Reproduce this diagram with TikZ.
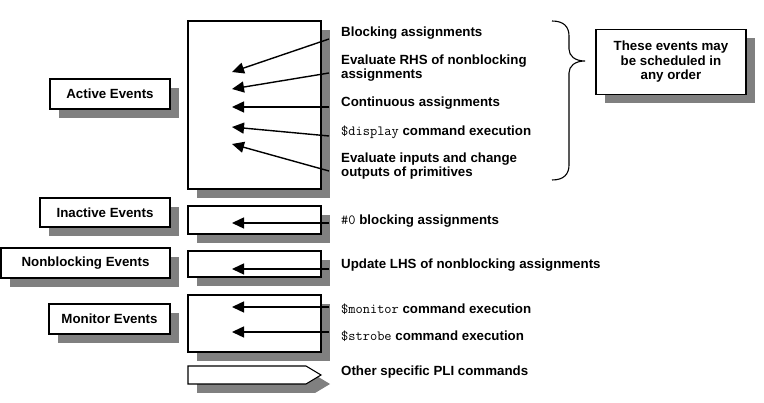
\documentclass[tikz,border=0pt]{standalone}
\usepackage{fontspec}
\setmainfont{Liberation Sans}
\usetikzlibrary{arrows.meta,shadows}
\newcommand\mycode[1]{{\ttfamily\mdseries\fontsize{14}{14}\selectfont#1}}
\begin{document}
\begin{tikzpicture}[x=1pt,y=-1pt,
  font=\fontsize{13.3}{14.5}\selectfont\bfseries,
  shad/.style={drop shadow={shadow xshift=9pt,shadow yshift=-9pt,fill=black!50,opacity=1}},
  evbox/.style={draw,fill=white,line width=1.1pt,shad,inner sep=0pt},
  lbl/.style={anchor=west,align=left,inner sep=0pt},
  arr/.style={line width=1.4pt,-{Triangle[length=12pt,width=11pt]}}]
\useasboundingbox (0,0) rectangle (764,403);
% event boxes
\node[evbox,minimum width=133pt,minimum height=168pt] (activebox) at (254.5,105) {};
\node[evbox,minimum width=120pt,minimum height=30pt] (activelbl) at (110,94) {Active Events};
\node[evbox,minimum width=130pt,minimum height=29pt] (inactivelbl) at (105,212.5) {Inactive Events};
\node[evbox,minimum width=133pt,minimum height=28pt] (inactivebox) at (254.5,220) {};
\node[evbox,minimum width=169pt,minimum height=30pt] (nblbl) at (85.5,263) {Nonblocking Events};
\node[evbox,minimum width=133pt,minimum height=26pt] (nbbox) at (254.5,264) {};
\node[evbox,minimum width=121pt,minimum height=30pt] (monlbl) at (109.5,319) {Monitor Events};
\node[evbox,minimum width=133pt,minimum height=57pt] (monbox) at (254.5,323.5) {};
\node[evbox,minimum width=150pt,minimum height=65pt,align=center] (orderbox) at (671,62)
  {\baselineskip=16pt These events may\\be scheduled in\\any order};
% other PLI pentagon
\path[draw,fill=white,line width=1.1pt,shad] (188,366) -- (306,366) -- (321,375) -- (306,384) -- (188,384) -- cycle;
% texts
\node[lbl] (t1) at (341,33) {Blocking assignments};
\node[lbl] (t2) at (341,68) {Evaluate RHS of nonblocking\\assignments};
\node[lbl] (t3) at (341,103) {Continuous assignments};
\node[lbl] (t4) at (341,132) {\mycode{\$display} command execution};
\node[lbl] (t5) at (341,166) {Evaluate inputs and change\\outputs of primitives};
\node[lbl] (t6) at (341,221) {\mycode{\#0} blocking assignments};
\node[lbl] (t7) at (341,265) {Update LHS of nonblocking assignments};
\node[lbl] (t8) at (341,309) {\mycode{\$monitor} command execution};
\node[lbl] (t9) at (341,336) {\mycode{\$strobe} command execution};
\node[lbl] (t10) at (341,372) {Other specific PLI commands};
% arrow endpoints
\coordinate (s1) at (329,39);  \coordinate (e1) at (232,72);
\coordinate (s2) at (329,73);  \coordinate (e2) at (232,89);
\coordinate (s3) at (329,107); \coordinate (e3) at (232,107);
\coordinate (s4) at (329,136); \coordinate (e4) at (232,127);
\coordinate (s5) at (329,171); \coordinate (e5) at (232,144);
\coordinate (s6) at (329,223); \coordinate (e6) at (232,223);
\coordinate (s7) at (329,269); \coordinate (e7) at (232,269);
\coordinate (s8) at (329,307); \coordinate (e8) at (232,307);
\coordinate (s9) at (329,332); \coordinate (e9) at (232,332);
\foreach \i in {1,...,9} {\draw[arr] (s\i) -- (e\i);}
% brace
\draw[line width=1.1pt] (552,21) .. controls (564,21) and (569,27) .. (569,36) -- (569,49)
  .. controls (569,56) and (575,61) .. (585,61)
  .. controls (575,61) and (569,66) .. (569,73) -- (569,165)
  .. controls (569,174) and (564,180) .. (552,180);
\end{tikzpicture}
\end{document}
